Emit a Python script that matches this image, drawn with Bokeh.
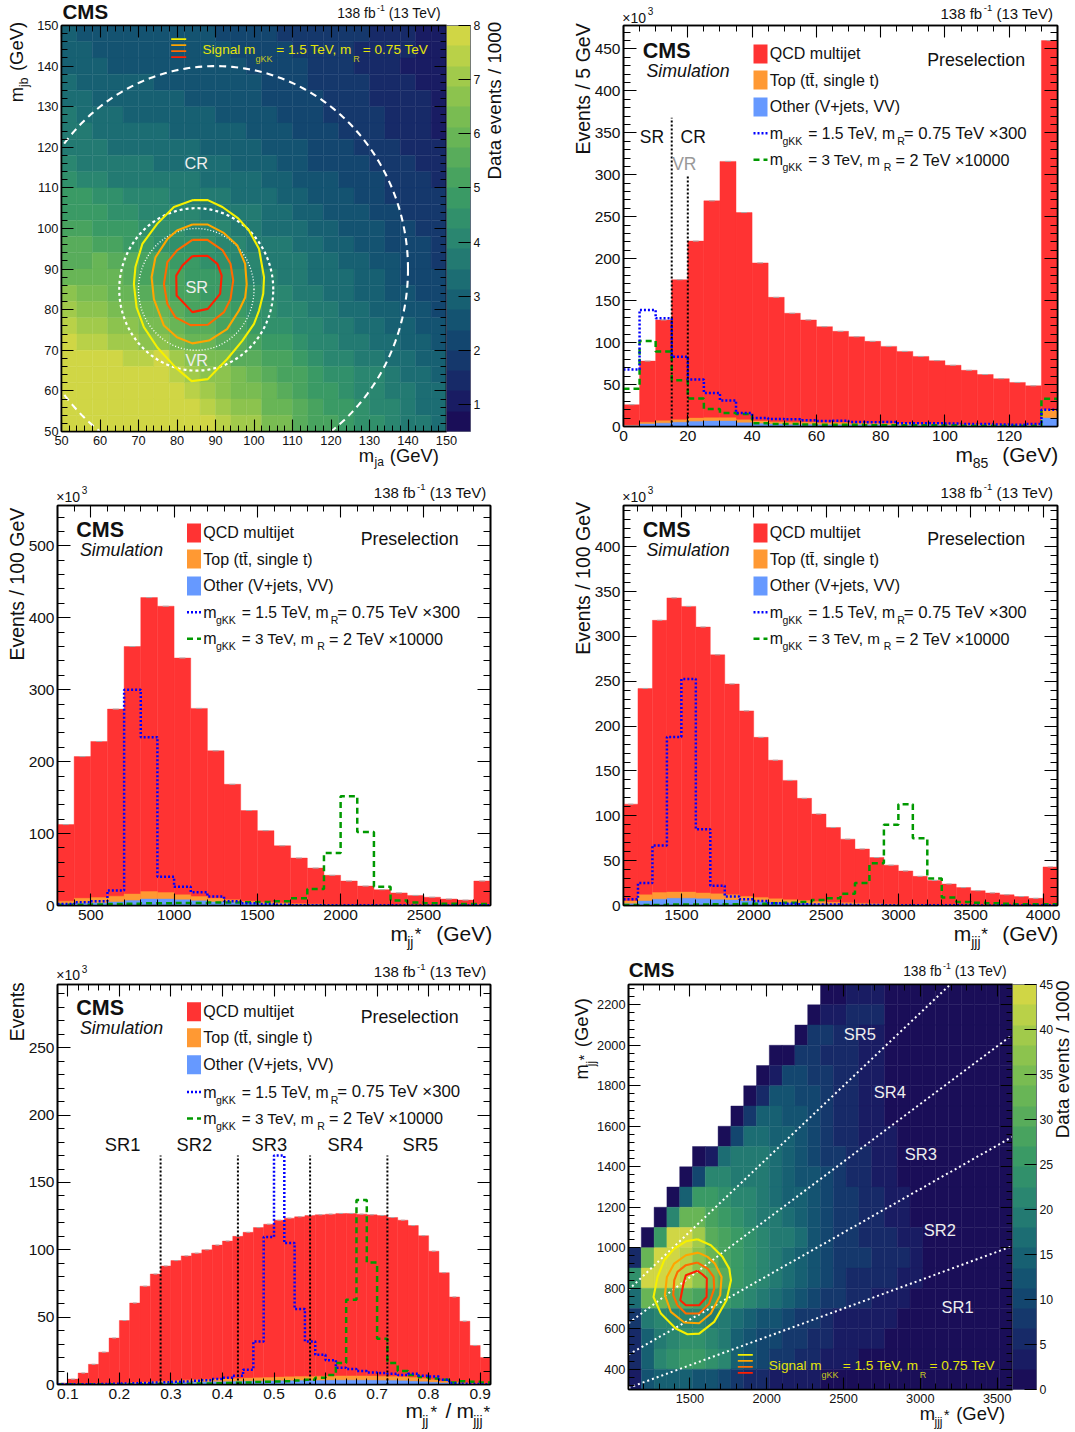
import numpy as np
from bokeh.plotting import figure
from bokeh.layouts import row, column
from bokeh.embed import file_html
from bokeh.resources import INLINE
from bokeh.models import (Label, LinearAxis, FixedTicker, ColorBar, LinearColorMapper,
                          ColumnDataSource, PrintfTickFormatter, CustomJSTickFormatter)

FONT = "Liberation Sans"

# ---- data: m85
m85_edges = list(range(0, 140, 5))
m85_qcd = [26,78,127,175,221,269,316,255,195,154,135,127,119,113.5,107,101.5,95.5,89.5,83.5,78.5,73,67,62,57,52.5,48.5,460]
m85_top = [1.5,5,7,8,10,10.5,10.5,8,6.5,5.5,5,5,4.5,4.5,4,4,3.5,3.5,3,3,2.5,2.5,2.5,2,2,2,20]
m85_oth = [1,3,4,5,6,6.5,6.5,4.5,3.5,3,2.5,2.5,2,2,2,2,1.5,1.5,1.5,1.5,1,1,1,1,1,1,10]
m85_sig1 = [68,139,129,83,56,40,31,16,10,9,8.5,7.5,6.5,7,5.5,5,5.5,4,4,4,3.5,3,3,2.5,2,3,20]
m85_sig2 = [45,102,89.5,55,33.5,21,16,15,4,3,3,2.5,2,2,2,1.5,1.5,1.5,1.5,1.5,1.5,1,1,1,1,1,33]
# ---- data: mjj*
mjj_edges = list(range(300, 3000, 100))
mjj_qcd = [112.5,207,228,273,360,428,416,344,274,215,168.5,132,104,83,66,52,42,34,27,22,17.5,14,11.5,9,7.5,34]
mjj_top = [6,10,11,13,16,19.5,18,15,12.5,10,8,6,4.5,3.5,2.5,2,1.5,1,1,1,0.8,0.7,0.6,0.5,0.5,1.5]
mjj_oth = [2,3,3.5,5,7,9,9,8,6.5,5,4,3,2,1.5,1,1,0.6,0.5,0.5,0.4,0.3,0.3,0.2,0.2,0.2,0.5]
mjj_sig1 = [2,4.5,6,21,300,234,40,26,18.5,12.5,6,3,2,1,0.5,0.4,0.3,0.3,0.2,0.2,0.2,0.1,0.1,0.1,0.1,0.3]
mjj_sig2 = [1,1,1.5,2,2.5,3,3,3.5,3.5,4,4,4.5,5,6,10,23,73,152,102,26,7,4,3,2.5,2,2]
# ---- data: mjjj*
mjjj_edges = list(range(1100, 4200, 100))
mjjj_qcd = [113,242,318,343,333.5,310.5,279.5,247,217,187.5,162,139.5,119.5,102,87,74,63,53.5,45,38.5,32.5,28,24,20,16.5,14,12,10,8,43]
mjjj_top = [5,12,14.5,15,15,14,13,12,10,9,7.5,6.5,5.5,4.5,3.5,3,2.5,2,1.5,1.2,1,0.8,0.7,0.6,0.5,0.5,0.4,0.4,0.3,1.2]
mjjj_oth = [2,5,7,8,8,7.5,6.5,6,5,4,3,2.5,2,1.5,1.2,1,0.8,0.7,0.5,0.4,0.4,0.3,0.3,0.2,0.2,0.2,0.2,0.1,0.1,0.4]
mjjj_sig1 = [7,25,67,188,252.5,85,22,10,7,5,2.5,2,1.5,1,1,0.8,0.6,0.5,0.4,0.3,0.3,0.2,0.2,0.2,0.1,0.1,0.1,0.1,0.1,0.2]
mjjj_sig2 = [0.5,0.5,0.5,1,1,1,1.5,1.5,2,2,2.5,3,4,6,8,13,25,47,90,113,75,30,9,4,3,2.5,2,1.5,1.5,1.5]
# ---- data: ratio
ratio_edges = [round(0.08 + 0.02*i, 2) for i in range(43)]
ratio_qcd = [1,4,8.5,15,24,34.5,47.5,60.5,73,82,88,92,95.5,97.5,100,103.5,106.5,110,113,116.5,119,122,123.5,124.5,125.5,126,126.5,127,127,126.5,126,125.5,124,122,118,110.5,99,83,65,47,29,20]
ratio_top = [0.2,0.3,0.4,0.5,0.7,0.9,1.2,1.5,1.8,2.2,2.6,3,3.3,3.5,3.8,4,4.3,4.5,4.8,5,5.2,5.5,5.7,5.9,6,6.2,6.3,6.4,6.4,6.4,6.3,6.2,6,5.7,5.2,4.5,3.5,2.5,1.8,1.1,0.6,0.4]
ratio_oth = [0.1,0.1,0.2,0.2,0.3,0.4,0.5,0.6,0.8,1,1.2,1.4,1.5,1.7,1.8,2,2.1,2.3,2.4,2.5,2.6,2.7,2.8,2.9,3,3,3.1,3.2,3.2,3.2,3.1,3,2.9,2.7,2.4,2.1,1.6,1.2,0.8,0.5,0.3,0.2]
ratio_sig1 = [0.1,0.1,0.1,0.2,0.3,0.5,0.8,1,1.2,1.5,1.7,2,2.2,2.7,3.2,4,5,6.5,11,32,109.5,170,105,56,32,22,18,12.5,11.5,10,9,8.5,8,7,8,6.5,6,3.5,1,0.5,0.3,0.2]
ratio_sig2 = [0.1,0.1,0.1,0.1,0.1,0.1,0.1,0.2,0.2,0.3,0.4,0.5,0.6,0.7,0.8,1,1.2,1.3,1.5,1.8,2,2.2,2.5,3,3.5,5,7,16,63,137,90.5,34,16,10,7,5.5,4.5,3.5,1.5,2.5,2,1.5]
sr_bounds = [0.28, 0.43, 0.57, 0.72]
m85_bounds = [15, 20]
m85_bound_tops = [368, 299]
ratio_bound_top = 170

# ---- data: mja/mjb map, colour band of each cell, top row first
ja_rows = [
 [6,5,5,5,5,5,5,5,5,5,4,4,4,4,3,3,3,3,3,3,2,2,2,1,1],
 [6,6,5,5,5,5,5,5,5,5,5,4,4,4,4,3,3,3,3,2,2,2,2,1,1],
 [6,6,6,5,5,5,5,5,5,5,5,5,4,4,4,4,3,3,3,2,2,2,1,1,1],
 [7,6,6,6,6,6,5,5,5,5,5,5,5,4,4,4,3,3,3,3,2,2,2,1,1],
 [7,7,6,6,6,6,6,6,5,5,5,5,5,4,4,4,4,3,3,3,2,2,2,2,1],
 [8,7,7,7,6,6,6,6,6,6,5,5,5,5,4,4,4,3,3,3,3,2,2,2,1],
 [8,8,7,7,7,7,7,6,6,6,6,6,5,5,5,4,4,4,3,3,3,2,2,2,1],
 [8,8,8,7,7,7,7,7,7,6,6,6,6,5,5,5,4,4,4,3,3,3,2,2,2],
 [9,8,8,8,8,8,7,7,7,7,7,6,6,6,5,5,4,4,4,4,3,3,3,2,2],
 [10,9,9,8,8,8,8,8,8,7,7,7,7,6,6,5,5,5,4,4,4,3,3,3,2],
 [11,11,10,10,9,9,9,8,8,8,8,7,7,7,6,6,5,5,5,4,4,3,3,3,3],
 [11,11,11,10,10,9,9,9,9,8,8,8,8,7,7,6,6,5,5,5,4,4,3,3,3],
 [12,12,11,11,11,10,10,10,9,9,9,8,8,7,7,7,6,6,5,5,5,4,4,3,3],
 [13,13,12,12,11,11,10,10,10,10,9,9,8,8,8,7,7,6,6,5,5,4,4,4,3],
 [13,13,14,13,13,12,12,11,11,10,10,9,9,8,8,8,7,7,6,6,5,5,4,4,3],
 [14,14,14,14,13,12,12,12,11,11,11,10,9,9,8,8,7,7,7,6,6,5,4,4,4],
 [16,15,15,14,14,13,13,12,12,11,11,10,10,9,9,8,8,7,7,6,6,5,5,4,4],
 [17,16,16,15,15,14,14,13,12,12,12,11,10,10,9,9,8,8,7,7,6,6,5,5,4],
 [18,17,17,16,16,15,15,14,13,13,12,12,11,10,10,9,9,8,8,7,7,6,6,5,5],
 [19,18,18,17,17,16,16,15,14,14,13,13,12,11,11,10,9,9,8,8,7,7,6,6,5],
 [19,19,19,19,18,18,19,17,16,15,15,13,13,12,12,11,10,9,9,8,8,7,7,6,6],
 [19,19,19,19,19,19,19,18,17,16,16,15,14,13,12,12,11,10,10,9,9,8,7,7,6],
 [19,19,19,19,19,19,19,19,18,17,16,15,15,14,13,12,11,11,10,9,9,8,8,7,7],
 [19,19,19,19,19,19,19,19,19,18,17,16,16,14,14,13,12,11,11,10,9,9,8,7,7],
 [19,19,19,19,19,19,19,19,19,19,18,17,17,15,15,13,12,12,11,10,10,9,8,8,7],
]
# ---- data: mjjj*/mjj* map, colour band of each cell (-1 empty), top row first
jjj_rows = [
 [-1]*15 + [0,0,1,1,1] + [0]*10,
 [-1]*14 + [0,1,1,2,2,2] + [0]*10,
 [-1]*13 + [0,3,3,2,2,1,1] + [0]*10,
 [-1]*11 + [0,0,3,3,2,2,2,1,1] + [0]*10,
 [-1]*10 + [0,1,4,4,3,3,2,2,1,1] + [0]*10,
 [-1]*9 + [0,2,5,5,4,4,3,2,2,1,1] + [0]*10,
 [-1]*8 + [0,3,6,6,5,5,4,3,2,2,1,1] + [0]*10,
 [-1]*7 + [0,4,7,7,6,6,5,4,3,2,2,1,1,1] + [0]*9,
 [-1]*5 + [0,1,7,8,8,8,7,6,5,4,3,3,2,2,1,1] + [0]*9,
 [-1]*4 + [0,4,9,9,8,8,8,7,6,5,5,4,3,2,2,1,1] + [0]*9,
 [-1]*3 + [0,6,11,11,10,9,9,8,7,6,6,5,4,3,3,2,2,1,1] + [0]*8,
 [-1]*2 + [0,9,14,14,12,11,10,9,8,8,7,6,5,4,3,3,2,2,1,1] + [0]*8,
 [-1] + [0,11,19,19,17,13,12,11,10,9,8,8,7,5,4,3,3,2,2,2,1,1] + [0]*7,
 [2,14,19,19,18,16,14,12,11,10,9,8,7,6,5,4,3,3,3,2,2,2,1] + [0]*7,
 [10,19,19,19,18,16,15,13,11,10,9,8,7,6,5,4,3,2,2,2,2,1,1] + [0]*7,
 [7,14,14,13,13,12,12,11,10,9,8,7,6,5,4,3,3,2,2,1,1,1] + [0]*8,
 [3,8,9,9,9,9,8,8,7,6,5,5,4,3,3,2,1,1,1,1,1] + [0]*9,
 [2,6,8,9,10,10,9,8,6,5,4,4,3,3,2,2,1,1,1,1] + [0]*10,
 [2,6,9,10,11,11,10,9,6,5,4,3,3,2,2,1,1,1] + [0]*12,
 [1,5,6,6,6,5,5,4,3,2,2,1,1,1,1] + [0]*15,
]
band_palette = ["#1a0e58","#191c63","#172a68","#15386c","#13466f","#145371","#176072","#1c6d73",
                "#237a72","#2a8670","#31906b","#3a9a65","#48a35f","#58ac5b","#68b556","#79bc52",
                "#8cc34e","#a1ca4b","#b9d148","#d0d645"]

# ---- data: signal contours (x, y)
ja_contours = [
 ([84.2,88,91.8,95.9,98.7,101.3,102.6,102.4,101.3,100,97,93,90.5,88,83.8,79.6,74.9,71.4,69.5,68.8,69.2,71,74.9,79.2,84.2],
  [107,107,105.3,102.5,99.5,95,88,83.9,79.8,76.5,72.4,67.8,65.4,62.9,62.4,65.8,70.7,75.7,80.6,86.3,90.5,96.2,101.2,105.3,107]),
 ([84,87.9,92,95.7,97.7,98.1,97.7,96.1,93,88.3,84,80,76.6,74,73.4,74.4,77.5,80,84],
  [101,101,99,95.8,91.3,86.3,83,79.8,75.2,72.4,71.7,73.2,76.1,82.6,88,92.9,97.4,99.5,101]),
 ([84,87.9,91.8,93.9,94.6,93.9,92.2,88,83.5,79.6,77.5,76.6,77.5,80,84],
  [97.2,97.2,94.7,91.3,87.2,82.6,79.4,76.3,76.2,78.1,81.4,86.3,91.7,94.6,97.2]),
 ([84,87.9,90.5,91.6,91.2,88,84,79.9,79.8,81.4,84],
  [93.2,93.3,91.3,88.4,83.9,80.2,79.4,83.5,88.4,90.9,93.2]),
]
jjj_contours = [
 ([1549.5,1473.5,1397.5,1332,1289,1263,1311,1408,1484,1560,1658,1738,1767,1756,1712,1636,1549.5],
  [1042,1032,996,938,856,757,675,601,573,576,634,741,840,897,955,1012,1042]),
 ([1554,1473.5,1397.5,1350,1337,1376,1463,1560,1636,1697,1706,1662,1615,1554],
  [976,963,922,856,766,683,631,627,675,766,856,922,955,976]),
 ([1549.5,1473.5,1419,1398,1391,1419,1473.5,1560,1625,1658,1654,1615,1549.5],
  [927,914,881,840,766,716,675,675,724,798,856,897,927]),
 ([1549.5,1473.5,1458,1437,1473.5,1560,1608,1610,1582,1549.5],
  [886,864,823,741,716,716,757,848,868,886]),
]
contour_colors = ["#f6f000", "#ffa500", "#ff6a00", "#ff1f00"]
# control/validation/signal region circles: centre x, centre y, radius
region_circles = [(90, 90, 50), (85, 85, 20), (85, 85, 15)]

RED, ORANGE, BLUE = "#ff3333", "#ff9933", "#6699ff"
frames = {}
BASE_K = 0.385

# transparent sheet over the whole page, in page pixels, that carries the texts
PAGE_W, PAGE_H = 1075, 1432
sheet = figure(width=PAGE_W, height=PAGE_H, x_range=(0, PAGE_W), y_range=(PAGE_H, 0), output_backend="svg",
               toolbar_location=None, x_axis_location=None, y_axis_location=None, min_border=0,
               outline_line_color=None, background_fill_color=None, border_fill_color=None,
               margin=(-PAGE_H, 0, 0, 0), frame_align=False)
sheet.grid.visible = False


def panel(ox, oy, W, H, fx0, fx1, fy0, fy1, xr, yr):
    p = figure(width=W, height=H, x_range=xr, y_range=yr, output_backend="svg",
               toolbar_location=None, min_border_left=int(round(fx0-ox)), min_border_right=int(round(ox+W-fx1)),
               min_border_top=int(round(fy0-oy)), min_border_bottom=int(round(oy+H-fy1)),
               outline_line_color="black", outline_line_width=1.6, frame_align=False,
               background_fill_color="white", border_fill_color=None)
    p.grid.visible = False
    frames[id(p)] = (round(fx0-ox)+ox, ox+W-round(ox+W-fx1), round(fy0-oy)+oy, oy+H-round(oy+H-fy1), xr, yr)
    return p


def to_x(p, px):
    f = frames[id(p)]
    return f[4][0] + (px - f[0]) / (f[1] - f[0]) * (f[4][1] - f[4][0])


def to_y(p, py):
    f = frames[id(p)]
    return f[5][0] + (f[3] - py) / (f[3] - f[2]) * (f[5][1] - f[5][0])


def T(x, y, text, size, color="#111111", style="normal", rot=False):
    if rot:
        x = x - BASE_K * size
    else:
        y = y - BASE_K * size
    sheet.add_layout(Label(x=x, y=y, x_units="data", y_units="data", text=text,
                           text_font=FONT, text_font_size=f"{size}px", text_color=color,
                           text_font_style=style, text_baseline="alphabetic", text_align="left",
                           angle=np.pi/2 if rot else 0))


def axes(p, xmaj, xmin, ymaj, ymin, size, xlen=(12, 6), ylen=(13, 7), xfmt=None):
    xt = FixedTicker(ticks=xmaj, minor_ticks=xmin)
    yt = FixedTicker(ticks=ymaj, minor_ticks=ymin)
    blank = CustomJSTickFormatter(code="return ''")
    top = LinearAxis(ticker=xt, formatter=blank, major_label_text_font_size="0px", major_label_standoff=0)
    right = LinearAxis(ticker=yt, formatter=blank, major_label_text_font_size="0px", major_label_standoff=1)
    p.add_layout(top, "above")
    p.add_layout(right, "right")
    p.below[0].ticker = xt
    p.left[0].ticker = yt
    if xfmt is not None:
        p.below[0].formatter = xfmt
    for a, ln in ((p.below[0], xlen), (top, xlen), (p.left[0], ylen), (right, ylen)):
        a.major_tick_in = ln[0]
        a.major_tick_out = 0
        a.minor_tick_in = ln[1]
        a.minor_tick_out = 0
        a.axis_line_color = "black"
        a.axis_line_width = 1.6
        a.major_tick_line_color = "black"
        a.minor_tick_line_color = "black"
        a.major_tick_line_width = 1.1
        a.minor_tick_line_width = 1
    for a, st in ((p.below[0], 4), (p.left[0], 3)):
        a.major_label_text_font = FONT
        a.major_label_text_font_size = f"{size}px"
        a.major_label_text_color = "#111111"
        a.major_label_standoff = st


def seq(a, b, step, skip=None):
    vals = [round(a + step*i, 4) for i in range(int(round((b-a)/step))+1)]
    if skip:
        vals = [v for v in vals if not any(abs(v-s) < 1e-6 for s in skip)]
    return vals


def hist(p, edges, qcd, top, oth, sig1, sig2):
    e = np.array(edges, dtype=float)
    for vals, col in ((qcd, RED), (top, ORANGE), (oth, BLUE)):
        p.quad(left=e[:-1], right=e[1:], bottom=0, top=vals, fill_color=col, line_color=col, line_width=0.4)
    w = e[1] - e[0]
    p.segment(e[:-1]+0.32*w, qcd, e[:-1]+0.68*w, qcd, line_color="#aaaaaa", line_width=1)
    xs = np.repeat(e, 2)[1:-1]
    p.line(xs, np.repeat(sig2, 2), line_color="#009900", line_width=2.5, line_dash="6 4")
    p.line(xs, np.repeat(sig1, 2), line_color="#0000ff", line_width=2.5, line_dash="2 2")


def legend(p, dx, dy, ds=0):
    T(642.3+dx, 58.3+dy, "CMS", 21.5, style="bold")
    T(646+dx, 77+dy, "Simulation", 17.8, style="italic")
    T(926.7+dx, 66+dy, "Preselection", 17.8)
    for (t0, t1), col in (((44, 63), RED), ((70, 89), ORANGE), ((97, 116), BLUE)):
        p.quad(left=to_x(p, 753+dx), right=to_x(p, 767+dx), bottom=to_y(p, t1+dy), top=to_y(p, t0+dy),
               fill_color=col, line_color=None)
    T(769.3+dx, 59.3+dy, "QCD multijet", 16)
    T(769.3+dx, 85.7+dy, "Top (tt\u0304, single t)", 16)
    T(769.3+dx, 112.3+dy, "Other (V+jets, VV)", 16)
    d = dy + ds
    p.line([to_x(p, 753+dx), to_x(p, 767+dx)], [to_y(p, 132.7+d)]*2, line_color="#0000ff", line_width=2.5, line_dash="2 2")
    p.line([to_x(p, 753+dx), to_x(p, 767+dx)], [to_y(p, 159.3+d)]*2, line_color="#009900", line_width=2.5, line_dash="6 4")
    T(769.3+dx, 139+d, "m", 16)
    T(782+dx, 144.5+d, "gKK", 10.5)
    T(807.7+dx, 139+d, "= 1.5 TeV, m", 15.7)
    T(896.7+dx, 144.5+d, "R", 10.5)
    T(903.3+dx, 139+d, "= 0.75 TeV \u00d7300", 16.8)
    T(769.3+dx, 165.3+d, "m", 16)
    T(782+dx, 170.8+d, "gKK", 10.5)
    T(807.7+dx, 165.3+d, "= 3 TeV, m", 15.3)
    T(883.3+dx, 170.8+d, "R", 10.5)
    T(895+dx, 165.3+d, "= 2 TeV \u00d710000", 16.2)


def lumi(x0, base, size=15):
    k = size / 15
    T(x0, base, "138 fb", size)
    T(x0 + 43.3*k, base - 7, "-1", 9.5*k)
    T(x0 + 56*k, base, "(13 TeV)", size)


def times3(x0, base):
    T(x0, base, "\u00d710", 14)
    T(x0 + 25.5, base - 8, "3", 10)


def heat(p, rows, xedges, yedges, low, high):
    rows = np.array(rows)
    step = (high - low) / 20
    ny, nx = rows.shape
    l, r, b, t, v = [], [], [], [], []
    for j in range(ny):
        for i in range(nx):
            if rows[j, i] >= 0:
                l.append(xedges[i]); r.append(xedges[i+1])
                b.append(yedges[ny-1-j]); t.append(yedges[ny-j])
                v.append(low + (rows[j, i] + 0.5) * step)
    mapper = LinearColorMapper(palette=band_palette, low=low, high=high)
    src = ColumnDataSource(dict(l=l, r=r, b=b, t=t, v=v))
    tr = {"field": "v", "transform": mapper}
    p.quad(left="l", right="r", bottom="b", top="t", source=src, fill_color=tr, line_color=tr, line_width=0.4)
    return mapper


def cbar(p, mapper, ticks):
    cb = ColorBar(color_mapper=mapper, ticker=FixedTicker(ticks=ticks), width=24, height="auto",
                  padding=0, margin=0, major_tick_in=12, major_tick_line_color="black",
                  major_tick_line_width=1.1, minor_tick_line_color=None, bar_line_color="#333355",
                  bar_line_width=0.6, major_label_text_font=FONT, major_label_text_font_size="12.3px",
                  major_label_text_color="#111111", label_standoff=3)
    p.add_layout(cb, "right")


def contours(p, data):
    for (cx, cy), col in zip(data, contour_colors):
        p.line(cx, cy, line_color=col, line_width=2.1)


# ---------- panel 1
p1 = panel(0, 0, 537, 478, 61, 446, 25, 431, (50, 150), (50, 150))
m1 = heat(p1, ja_rows, seq(50, 150, 4), seq(50, 150, 4), 0.5, 8)
axes(p1, seq(50, 150, 10), seq(50, 150, 2, seq(50, 150, 10)), seq(50, 150, 10), seq(50, 150, 2, seq(50, 150, 10)), 12.8, (12, 6), (12, 6))
cbar(p1, m1, [1, 2, 3, 4, 5, 6, 7, 8])
for (cx, cy, rad), dash, lw in zip(region_circles, ("7 5", "3 3", "1 2"), (2.1, 2.2, 1.4)):
    th = np.linspace(0, 2*np.pi, 361)
    p1.line(cx + rad*np.cos(th), cy + rad*np.sin(th), line_color="white", line_width=lw, line_dash=dash)
contours(p1, ja_contours)
for yy, col in zip((38.7, 44.7, 50.7, 56.7), contour_colors):
    p1.line([to_x(p1, 170.7), to_x(p1, 185.7)], [to_y(p1, yy)]*2, line_color=col, line_width=1.8)
YEL = "#e4e40a"
T(202, 54.3, "Signal m", 13.6, YEL)
T(255, 62, "gKK", 9, "#c8c820")
T(275.7, 54.3, "= 1.5 TeV, m", 13.6, YEL)
T(352.7, 62, "R", 9, "#c8c820")
T(362.3, 54.3, "= 0.75 TeV", 13.6, YEL)
for x, y, s in ((184, 168.3, "CR"), (185, 292.3, "SR"), (185, 365.7, "VR")):
    T(x, y, s, 16.3, "#eeeeee")
T(62, 19.3, "CMS", 20.5, style="bold")
lumi(336.7, 18.3, 13.8)
T(358.3, 461.7, "m", 18.4)
T(374, 466.5, "ja", 12)
T(389.3, 461.7, "(GeV)", 18.4)
T(23.3, 101.7, "m", 18.4, rot=True)
T(28, 86.5, "jb", 12, rot=True)
T(23.3, 70.5, "(GeV)", 18.4, rot=True)
T(501.7, 179, "Data events / 1000", 18.8, rot=True)

# ---------- panel 2
p2 = panel(537, 0, 538, 478, 622.7, 1056.7, 25.3, 425.7, (0, 135), (0, 478))
hist(p2, m85_edges, m85_qcd, m85_top, m85_oth, m85_sig1, m85_sig2)
axes(p2, seq(0, 120, 20), seq(0, 135, 5, seq(0, 120, 20)), seq(0, 450, 50), seq(0, 470, 10, seq(0, 450, 50)), 15.5)
for xb, tb in zip(m85_bounds, m85_bound_tops):
    p2.line([xb, xb], [0, tb], line_color="black", line_width=2, line_dash="2 2")
legend(p2, 0, 0)
T(639.3, 143.3, "SR", 17.5)
T(680, 143.3, "CR", 17.5)
T(671.7, 170, "VR", 17.5, "#999999")
lumi(940, 18.3)
times3(621.7, 22.7)
T(590, 154, "Events / 5 GeV", 19.5, rot=True)
T(955, 461.7, "m", 21)
T(972.3, 468.3, "85", 14)
T(1001.7, 461.7, "(GeV)", 21)

# ---------- panel 3
p3 = panel(0, 478, 537, 480, 56.7, 490.3, 504.7, 905, (300, 2900), (0, 556))
hist(p3, mjj_edges, mjj_qcd, mjj_top, mjj_oth, mjj_sig1, mjj_sig2)
axes(p3, seq(500, 2500, 500), seq(300, 2900, 100, seq(500, 2500, 500)), seq(0, 500, 100), seq(0, 540, 20, seq(0, 500, 100)), 15.5)
legend(p3, -566.5, 479)
lumi(373.3, 497.3)
times3(55.7, 501.7)
T(24, 660, "Events / 100  GeV", 19.5, rot=True)
T(390, 941, "m", 21)
T(406.7, 947.3, "jj", 14)
T(414.3, 941, "*", 17)
T(435.7, 941, "(GeV)", 21)

# ---------- panel 4
p4 = panel(537, 478, 538, 480, 622.7, 1056.7, 504.7, 905, (1100, 4100), (0, 446))
hist(p4, mjjj_edges, mjjj_qcd, mjjj_top, mjjj_oth, mjjj_sig1, mjjj_sig2)
axes(p4, seq(1500, 4000, 500), seq(1100, 4100, 100, seq(1500, 4000, 500)), seq(0, 400, 50), seq(0, 440, 10, seq(0, 400, 50)), 15.5)
legend(p4, 0, 479)
lumi(940, 497.3)
times3(621.7, 501.7)
T(590, 654.3, "Events / 100 GeV", 19.5, rot=True)
T(953.3, 941, "m", 21)
T(970.7, 947.3, "jjj", 14)
T(980.7, 941, "*", 17)
T(1001.7, 941, "(GeV)", 21)

# ---------- panel 5
p5 = panel(0, 958, 537, 474, 56.7, 490.3, 984, 1384, (0.08, 0.92), (0, 297))
hist(p5, ratio_edges, ratio_qcd, ratio_top, ratio_oth, ratio_sig1, ratio_sig2)
axes(p5, seq(0.1, 0.9, 0.1), seq(0.08, 0.92, 0.02, seq(0.1, 0.9, 0.1)), seq(0, 250, 50), seq(0, 290, 10, seq(0, 250, 50)), 15.5,
     xfmt=PrintfTickFormatter(format="%.1f"))
for xb in sr_bounds:
    p5.line([xb, xb], [0, ratio_bound_top], line_color="black", line_width=2, line_dash="2 2")
legend(p5, -566.5, 957.7, 1)
for x, s in ((104.3, "SR1"), (176, "SR2"), (251, "SR3"), (327, "SR4"), (402, "SR5")):
    T(x, 1150.7, s, 18.3)
lumi(373.3, 976.7)
times3(55.7, 980)
T(24, 1040.7, "Events", 19.3, rot=True)
T(405, 1418.3, "m", 21)
T(421.7, 1426, "jj", 14)
T(430, 1418.3, "*", 17)
T(445, 1418.3, "/", 21)
T(456, 1418.3, "m", 21)
T(472.7, 1426, "jjj", 14)
T(483, 1418.3, "*", 17)

# ---------- panel 6
p6 = panel(537, 958, 538, 474, 627.7, 1011.7, 984, 1389.3, (1100, 3600), (300, 2300))
x6 = [1100 + 2500/30*i for i in range(31)]
m6 = heat(p6, jjj_rows, x6, seq(300, 2300, 100), 0, 45)
axes(p6, seq(1500, 3500, 500), seq(1100, 3600, 100, seq(1500, 3500, 500)), seq(400, 2200, 200), [v for v in seq(320, 2280, 40) if v not in seq(400, 2200, 200)], 12.8, (12, 6), (12, 6))
cbar(p6, m6, [0, 5, 10, 15, 20, 25, 30, 35, 40, 45])
for b in sr_bounds:
    p6.line([1100, 3600], [b*1100, b*3600], line_color="white", line_width=2, line_dash="2 3")
contours(p6, jjj_contours)
for yy, col in zip((1354.3, 1360.3, 1366.3, 1372.3), contour_colors):
    p6.line([to_x(p6, 737.3), to_x(p6, 752.3)], [to_y(p6, yy)]*2, line_color=col, line_width=1.8)
T(768.3, 1370, "Signal m", 13.6, YEL)
T(821, 1378.3, "gKK", 9, "#c8c820")
T(842.3, 1370, "= 1.5 TeV, m", 13.6, YEL)
T(919.3, 1378.3, "R", 9, "#c8c820")
T(929, 1370, "= 0.75 TeV", 13.6, YEL)
for x, y, s in ((843.3, 1040, "SR5"), (873.3, 1098.3, "SR4"), (904.3, 1160, "SR3"), (923.3, 1236, "SR2"), (941, 1313.3, "SR1")):
    T(x, y, s, 16.5, "#eeeeee")
T(628.3, 977.3, "CMS", 20.5, style="bold")
lumi(902.7, 976, 13.8)
T(919.3, 1420, "m", 18.4)
T(934, 1425.7, "jjj", 12)
T(943.3, 1420, "*", 15)
T(955.7, 1420, "(GeV)", 18.4)
T(588.3, 1079, "m", 18.4, rot=True)
T(595, 1065.7, "jj", 12, rot=True)
T(588.3, 1060, "*", 15, rot=True)
T(588.3, 1046.7, "(GeV)", 18.4, rot=True)
T(1069, 1137.7, "Data events / 1000", 18.8, rot=True)

layout = column(row(p1, p2, spacing=0), row(p3, p4, spacing=0), row(p5, p6, spacing=0), sheet, spacing=0)
open("out.html", "w").write(file_html(layout, INLINE))
